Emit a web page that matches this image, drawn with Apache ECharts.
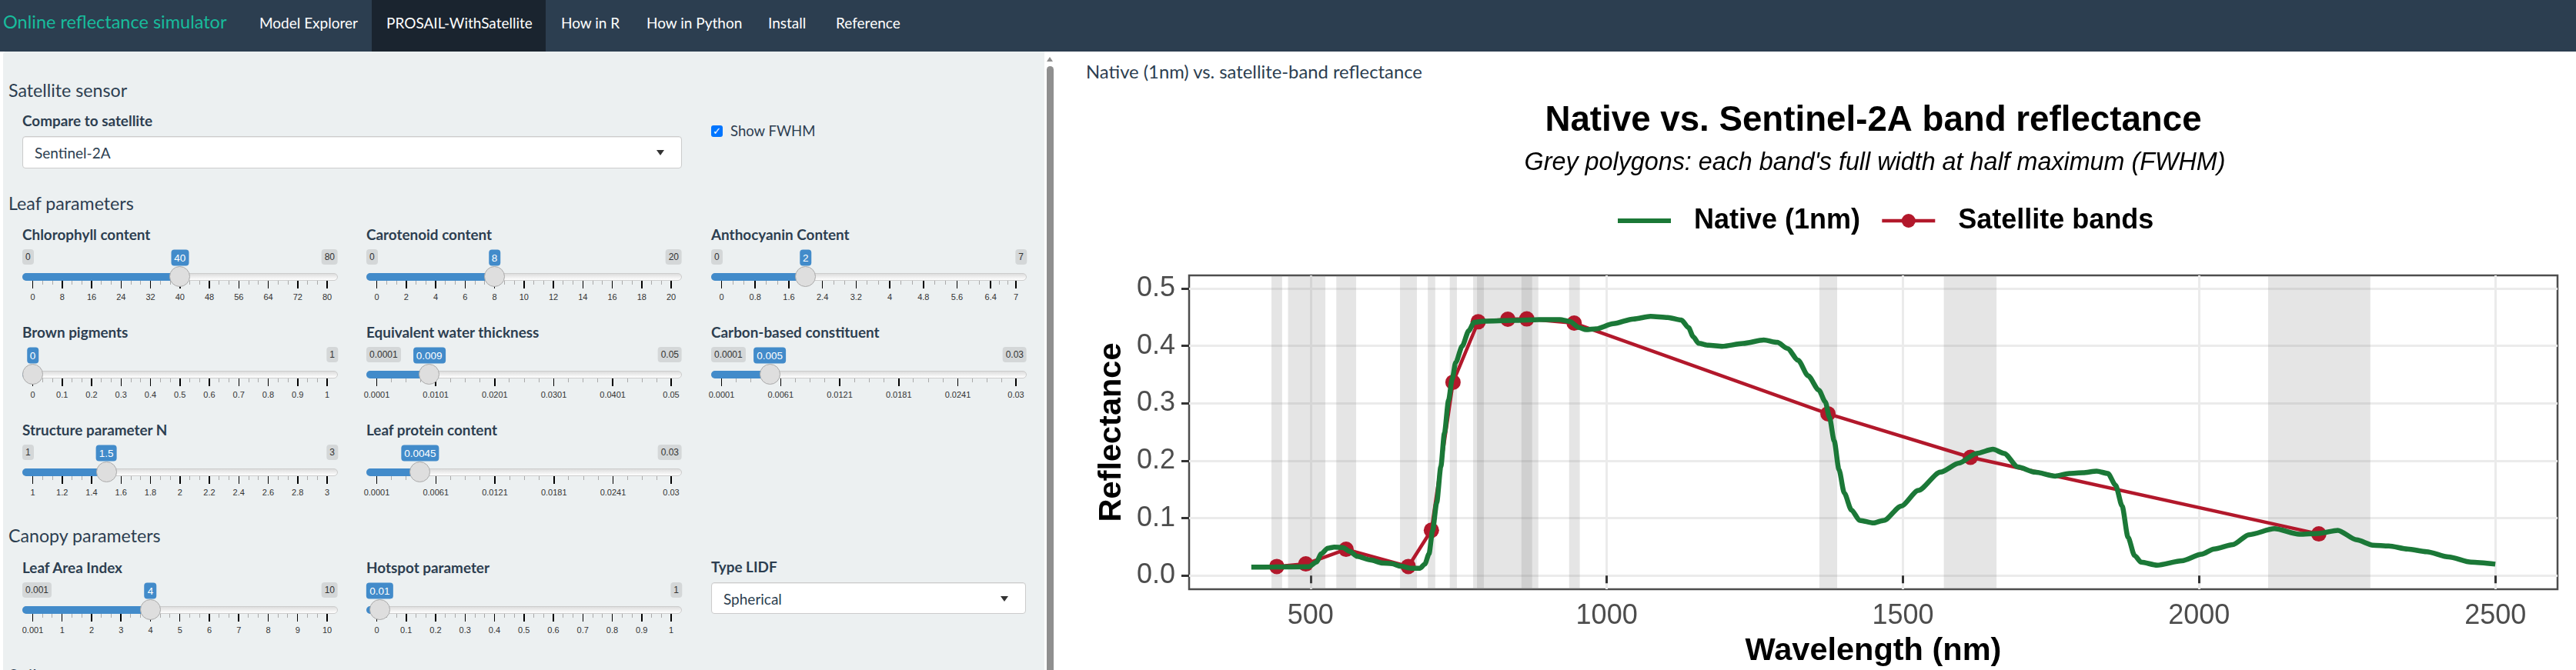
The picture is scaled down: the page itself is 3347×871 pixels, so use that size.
<!DOCTYPE html>
<html>
<head>
<meta charset="utf-8">
<title>PROSAIL-WithSatellite</title>
<script src="https://cdn.jsdelivr.net/npm/echarts@6/dist/echarts.min.js"></script>
<style>
  html, body { margin: 0; width: 3347px; height: 871px; overflow: hidden; background: #fff; font-family: Lato, sans-serif; color: #2c3e50; }
  #nav { position: absolute; left: 0; top: 0; width: 3347px; height: 67px; background: #2c3e50; }
  #active { position: absolute; left: 483px; top: 0; width: 226px; height: 67px; background: #1a242f; }
  #side { position: absolute; left: 4px; top: 67px; width: 1353px; height: 804px; background: #ecf0f1; border-top-left-radius: 4px; }
  #thumb { position: absolute; left: 1360px; top: 86px; width: 9px; height: 785px; background: #8f8f8f; border-radius: 5px 5px 0 0; }
  #arrow { position: absolute; left: 1360px; top: 74px; width: 0; height: 0; border-left: 4.5px solid transparent; border-right: 4.5px solid transparent; border-bottom: 6px solid #8f8f8f; }
  #chart { position: absolute; left: 1372px; top: 67px; width: 1975px; height: 804px; }
  .t { position: absolute; white-space: nowrap; transform: translateY(-50%); }
  .b { position: absolute; box-sizing: border-box; }
</style>
</head>
<body>
<div id="nav"></div>
<div id="active"></div>
<div id="side"></div>
<div id="arrow"></div>
<div id="thumb"></div>
<div id="ui"></div>
<div id="chart"></div>
<script>
// native spectrum
const nativeNm = [400, 440, 497, 510, 518, 529, 540, 555, 566, 579, 600, 622, 637, 652, 670, 685, 693, 700, 706, 713, 720, 726, 733, 739, 745, 756, 767, 776, 793, 843, 886, 921, 938, 953, 965, 982, 1011, 1045, 1074, 1103, 1126, 1138, 1146, 1155, 1172, 1195, 1230, 1265, 1288, 1305, 1323, 1340, 1358, 1369, 1376, 1384, 1392, 1401, 1413, 1427, 1450, 1468, 1497, 1526, 1563, 1595, 1624, 1652, 1671, 1694, 1723, 1757, 1781, 1804, 1827, 1846, 1859, 1870, 1880, 1891, 1902, 1929, 1971, 2004, 2025, 2057, 2084, 2127, 2169, 2202, 2234, 2266, 2293, 2320, 2352, 2384, 2421, 2459, 2500];
const nativeRefl = [.0147, .015, .0156, .0236, .0379, .0477, .0496, .0487, .0424, .0335, .0276, .0219, .0209, .0165, .0129, .0129, .0201, .038, .0781, .127, .19, .248, .3056, .342, .371, .3995, .4262, .441, .4432, .4445, .4459, .4459, .4424, .432, .4283, .4297, .4387, .4469, .4515, .4496, .4451, .4319, .416, .4047, .4011, .3993, .4043, .4102, .4061, .3956, .3752, .348, .323, .3026, .2754, .2346, .1847, .1438, .1143, .0962, .0917, .0962, .1211, .1484, .1801, .196, .2128, .22, .2128, .1892, .1801, .1733, .1779, .1792, .1819, .1779, .1574, .1211, .0667, .0349, .0236, .0181, .0259, .0372, .0463, .054, .0712, .0817, .0721, .0735, .0789, .0622, .0531, .0517, .0463, .0417, .0327, .0236, .02];

// Sentinel-2A bands
const bandNm = [443, 492, 560, 665, 704, 740.5, 783, 833, 865, 945, 1373.5, 1614, 2202];
const bandRefl = [.0159, .0204, .0458, .0159, .079, .3367, .442, .4465, .447, .4397, .2818, .206, .0726];
const bandFrom = [434, 462, 543.5, 651, 698, 735, 774.5, 781, 856, 936.5, 1359, 1569, 2116.5];
const bandTo = [452, 525, 577, 679.5, 710.5, 747, 792.5, 884.5, 874, 954.5, 1389, 1658, 2289];

const xTicks = [500, 1000, 1500, 2000, 2500];
const yTicks = [0, 0.1, 0.2, 0.3, 0.4, 0.5];

const navItems = [["Model Explorer", 337], ["PROSAIL-WithSatellite", 502], ["How in R", 729], ["How in Python", 840], ["Install", 998], ["Reference", 1086]];
const headings = [["Satellite sensor", 117], ["Leaf parameters", 264], ["Canopy parameters", 696], ["Soil parameters", 878]];
const colX = [29, 476, 924];
const rowY = [355, 482, 609, 788];
// label, col, row, min, max, value, tick labels
const sliders = [
  ["Chlorophyll content", 0, 0, 0, 80, 40, [0, 8, 16, 24, 32, 40, 48, 56, 64, 72, 80]],
  ["Carotenoid content", 1, 0, 0, 20, 8, [0, 2, 4, 6, 8, 10, 12, 14, 16, 18, 20]],
  ["Anthocyanin Content", 2, 0, 0, 7, 2, [0, 0.8, 1.6, 2.4, 3.2, 4, 4.8, 5.6, 6.4, 7]],
  ["Brown pigments", 0, 1, 0, 1, 0, [0, 0.1, 0.2, 0.3, 0.4, 0.5, 0.6, 0.7, 0.8, 0.9, 1]],
  ["Equivalent water thickness", 1, 1, 0.0001, 0.05, 0.009, [0.0001, 0.0101, 0.0201, 0.0301, 0.0401, 0.05]],
  ["Carbon-based constituent", 2, 1, 0.0001, 0.03, 0.005, [0.0001, 0.0061, 0.0121, 0.0181, 0.0241, 0.03]],
  ["Structure parameter N", 0, 2, 1, 3, 1.5, [1, 1.2, 1.4, 1.6, 1.8, 2, 2.2, 2.4, 2.6, 2.8, 3]],
  ["Leaf protein content", 1, 2, 0.0001, 0.03, 0.0045, [0.0001, 0.0061, 0.0121, 0.0181, 0.0241, 0.03]],
  ["Leaf Area Index", 0, 3, 0.001, 10, 4, [0.001, 1, 2, 3, 4, 5, 6, 7, 8, 9, 10]],
  ["Hotspot parameter", 1, 3, 0, 1, 0.01, [0, 0.1, 0.2, 0.3, 0.4, 0.5, 0.6, 0.7, 0.8, 0.9, 1]],
];

const ui = document.getElementById("ui");
function text(s, x, y, css) {
  const el = document.createElement("div");
  el.className = "t";
  el.textContent = s;
  el.style.cssText = `left:${x}px;top:${y}px;${css || ""}`;
  ui.append(el);
  return el;
}
function box(x, y, w, h, css) {
  const el = document.createElement("div");
  el.className = "b";
  el.style.cssText = `left:${x}px;top:${y}px;width:${w}px;height:${h}px;${css || ""}`;
  ui.append(el);
  return el;
}
function selectBox(label, x, y, w, h) {
  box(x, y, w, h, "background:#fff;border:1px solid #ccc;border-radius:4px;box-shadow:inset 0 1px 1px rgba(0,0,0,.08)");
  text(label, x + 16, y + h / 2, "font-size:19px");
  box(x + w - 33, y + h / 2 - 3, 0, 0, "border-left:5px solid transparent;border-right:5px solid transparent;border-top:7px solid #333");
}

text("Online reflectance simulator", 4, 28, "font-size:23.5px;color:#18bc9c");
for (const [s, x] of navItems) text(s, x, 29, "font-size:19px;color:#fff");
for (const [s, y] of headings) text(s, 11, y, "font-size:23.2px");

text("Compare to satellite", 29, 156, "font-size:18.9px;font-weight:700");
selectBox("Sentinel-2A", 29, 177, 857, 42);
box(924, 163, 15, 15, "background:#0075ff;border-radius:3px");
text("✓", 926, 170, "font-size:13px;font-weight:700;color:#fff;font-family:'DejaVu Sans'");
text("Show FWHM", 949, 170, "font-size:18.5px");
text("Type LIDF", 924, 736, "font-size:18.9px;font-weight:700");
selectBox("Spherical", 924, 757, 409, 41);
text("Native (1nm) vs. satellite-band reflectance", 1411, 93, "font-size:23.8px");

for (const [label, col, row, min, max, value, ticks] of sliders) {
  const x = colX[col], y = rowY[row];
  const x0 = x + 13.5, span = 382.5;
  const pos = (v) => x0 + ((v - min) / (max - min)) * span;
  const hx = pos(value);
  text(label, x, y - 51, "font-size:18.9px;font-weight:700");
  box(x, y, 410, 10, "background:linear-gradient(#ddd,#fff);border:1px solid #ccc;border-radius:5px");
  box(x, y, hx - x, 10, "background:#428bca;border-radius:5px 0 0 5px");
  const small = ticks.length > 7 ? 2 : 3;
  ticks.forEach((t, i) => {
    const tx = pos(t);
    box(tx - 0.75, y + 10, 1.5, 10, "background:#000");
    text(String(t), tx, y + 31, "font:11px 'Liberation Sans';color:#333;transform:translate(-50%,-50%)");
    if (i < ticks.length - 1) {
      for (let k = 1; k <= small; k++) {
        box(tx + ((pos(ticks[i + 1]) - tx) * k) / (small + 1) - 0.5, y + 10, 1, 5, "background:#aaa");
      }
    }
  });
  box(hx - 13.5, y - 9.5, 27, 27, "background:#dedede;border:1px solid #aaa;border-radius:50%");
  const minEl = text(String(min), x, y - 21.5, "font:12px 'Liberation Sans';color:#333;background:rgba(0,0,0,.1);padding:3px 4px;border-radius:4px");
  text(String(max), x + 410, y - 21.5, "font:12px 'Liberation Sans';color:#333;background:rgba(0,0,0,.1);padding:3px 4px;border-radius:4px;transform:translate(-100%,-50%)");
  const valEl = text(String(value), hx, y - 20.5, "font:13.5px 'Liberation Sans';color:#fff;background:#428bca;padding:3px 4px;border-radius:4px;transform:translate(-50%,-50%)");
  // the min label goes away when the value label runs into it
  if (minEl.getBoundingClientRect().right + 4 > valEl.getBoundingClientRect().left) minEl.remove();
}

const chart = echarts.init(document.getElementById("chart"));
const font = "'Liberation Sans', Arial, sans-serif";
chart.setOption({
  animation: false,
  title: [
    { text: "Native vs. Sentinel-2A band reflectance", left: 1057, top: 62, textAlign: "center", textStyle: { fontFamily: font, fontWeight: "bold", fontSize: 45.7, color: "#000" } },
    { text: "Grey polygons: each band's full width at half maximum (FWHM)", left: 1059, top: 124, textAlign: "center", textStyle: { fontFamily: font, fontStyle: "italic", fontWeight: "normal", fontSize: 32.3, color: "#000" } },
  ],
  legend: {
    data: [
      { name: "Native (1nm)", itemStyle: { opacity: 0 }, lineStyle: { width: 6 } },
      { name: "Satellite bands", lineStyle: { width: 4.5 } },
    ],
    left: 722, top: 197, itemWidth: 69, itemHeight: 22.5, itemGap: 26,
    textStyle: { fontFamily: font, fontWeight: "bold", fontSize: 36, color: "#000", padding: [0, 0, 0, 25] },
  },
  grid: { left: 173, top: 291, width: 1778, height: 408, outerBoundsMode: "none", show: true, backgroundColor: "#fff", borderColor: "#4d4d4d", borderWidth: 2.5 },
  xAxis: {
    type: "value", min: 295, max: 2605,
    name: "Wavelength (nm)", nameLocation: "middle", nameGap: 60,
    nameTextStyle: { fontFamily: font, fontWeight: "bold", fontSize: 41.5, color: "#000" },
    axisLine: { show: false },
    axisTick: { length: 10, customValues: xTicks, lineStyle: { color: "#333", width: 3 } },
    axisLabel: { customValues: xTicks, margin: 17, fontFamily: font, fontSize: 36, color: "#4d4d4d", formatter: (v) => String(v) },
    splitLine: { show: true, lineStyle: { color: "#ebebeb", width: 3 } },
  },
  yAxis: {
    type: "value", min: -0.0237, max: 0.5228,
    name: "Reflectance", nameLocation: "middle", nameGap: 75,
    nameTextStyle: { fontFamily: font, fontWeight: "bold", fontSize: 41.5, color: "#000" },
    axisLine: { show: false },
    axisTick: { length: 10, customValues: yTicks, lineStyle: { color: "#333", width: 3 } },
    axisLabel: { customValues: yTicks, margin: 18, padding: [8, 0, 0, 0], fontFamily: font, fontSize: 36, color: "#4d4d4d", formatter: (v) => v.toFixed(1) },
    splitLine: { show: true, lineStyle: { color: "#ebebeb", width: 3 } },
  },
  series: [
    {
      name: "Satellite bands", type: "line", z: 3,
      data: bandNm.map((x, i) => [x, bandRefl[i]]),
      symbol: "circle", symbolSize: 20,
      lineStyle: { color: "#b2182b", width: 4.5 },
      itemStyle: { color: "#b2182b" },
      markArea: {
        silent: true,
        itemStyle: { color: "rgba(127,127,127,0.2)" },
        data: bandFrom.map((from, i) => [{ xAxis: from }, { xAxis: bandTo[i] }]),
      },
    },
    {
      name: "Native (1nm)", type: "line", z: 4,
      data: nativeNm.map((x, i) => [x, nativeRefl[i]]),
      showSymbol: false, symbol: "none", smooth: 0.25, smoothMonotone: "x",
      lineStyle: { color: "#1b7837", width: 6.5 },
      itemStyle: { color: "#1b7837" },
    },
  ],
});
</script>
</body>
</html>
